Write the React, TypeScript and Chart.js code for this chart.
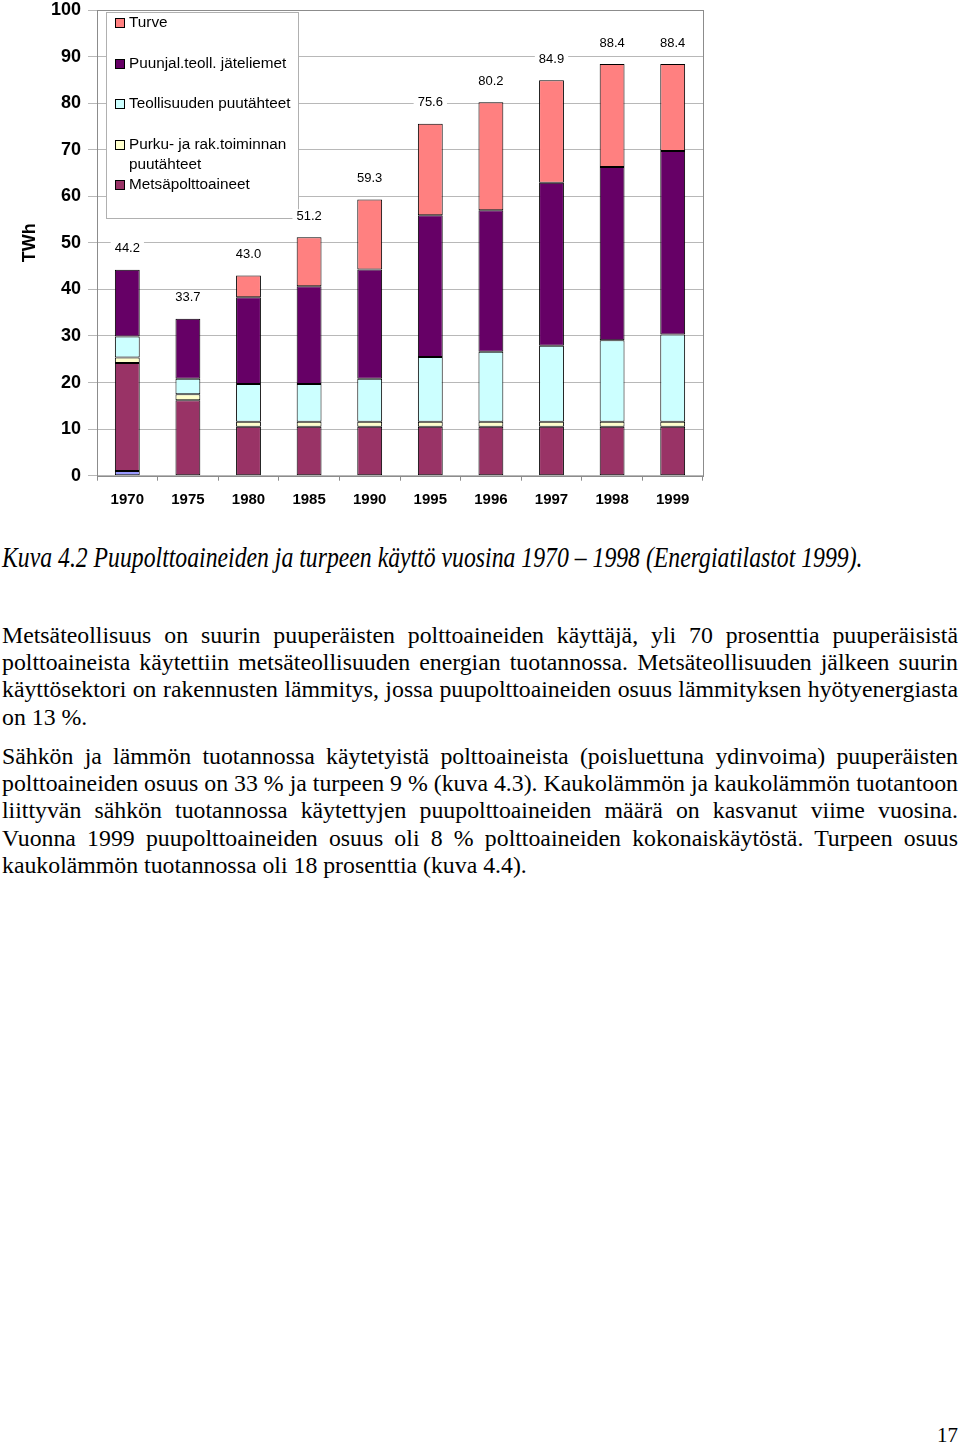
import React, { useEffect, useRef } from "react";
import { Chart, registerables } from "chart.js";
Chart.register(...registerables);

const years = ["1970", "1975", "1980", "1985", "1990", "1995", "1996", "1997", "1998", "1999"];
const muut = [1.0, null, null, null, null, null, null, null, null, null];
const metsa = [23.2, 16.2, 10.5, 10.5, 10.5, 10.5, 10.5, 10.5, 10.5, 10.5];
const purku = [1.2, 1.3, 1.1, 1.1, 1.1, 1.1, 1.1, 1.1, 1.1, 1.1];
const teoll = [4.5, 3.3, 8.1, 8.1, 9.2, 13.9, 15.0, 16.3, 17.5, 18.7];
const jate = [14.3, 12.9, 18.6, 21.0, 23.5, 30.4, 30.4, 35.0, 37.2, 39.4];
const turve = [null, null, 4.7, 10.5, 15.0, 19.7, 23.2, 22.0, 22.1, 18.7];
const yTicks = [0, 10, 20, 30, 40, 50, 60, 70, 80, 90, 100];

const seriesNames = ["Muut", "Metsäpolttoaineet", "Purku- ja rak.toiminnan puutähteet", "Teollisuuden puutähteet", "Puunjal.teoll. jäteliemet", "Turve"];
const seriesColors = ["#9999FF", "#993366", "#FFFFCC", "#CCFFFF", "#660066", "#FF8080"];
const legendLines = [
  ["Turve"],
  ["Puunjal.teoll. jäteliemet"],
  ["Teollisuuden puutähteet"],
  ["Purku- ja rak.toiminnan", "puutähteet"],
  ["Metsäpolttoaineet"],
];
const legendColors = ["#FF8080", "#660066", "#CCFFFF", "#FFFFCC", "#993366"];

const caption = "Kuva 4.2 Puupolttoaineiden ja turpeen käyttö vuosina 1970 – 1998 (Energiatilastot 1999).";
const para1 = [
  "Metsäteollisuus on suurin puuperäisten polttoaineiden käyttäjä, yli 70 prosenttia puuperäisistä",
  "polttoaineista käytettiin metsäteollisuuden energian tuotannossa. Metsäteollisuuden jälkeen suurin",
  "käyttösektori on rakennusten lämmitys, jossa puupolttoaineiden osuus lämmityksen hyötyenergiasta",
  "on 13 %.",
];
const para2 = [
  "Sähkön ja lämmön tuotannossa käytetyistä polttoaineista (poisluettuna ydinvoima) puuperäisten",
  "polttoaineiden osuus on 33 % ja turpeen 9 % (kuva 4.3). Kaukolämmön ja kaukolämmön tuotantoon",
  "liittyvän sähkön tuotannossa käytettyjen puupolttoaineiden määrä on kasvanut viime vuosina.",
  "Vuonna 1999 puupolttoaineiden osuus oli 8 % polttoaineiden kokonaiskäytöstä. Turpeen osuus",
  "kaukolämmön tuotannossa oli 18 prosenttia (kuva 4.4).",
];

const seriesData = [muut, metsa, purku, teoll, jate, turve];

const extrasPlugin = {
  id: "extras",
  beforeDatasetsDraw(chart: any) {
    const { ctx, chartArea } = chart;
    ctx.save();
    ctx.strokeStyle = "#8c8c8c";
    ctx.lineWidth = 1;
    ctx.strokeRect(Math.round(chartArea.left) + 0.5, Math.round(chartArea.top) + 0.5, Math.round(chartArea.right - chartArea.left), Math.round(chartArea.bottom - chartArea.top));
    ctx.restore();
  },
  afterDraw(chart: any) {
    const { ctx } = chart;
    const xs = chart.scales.x;
    const ys = chart.scales.y;
    ctx.save();
    // legend
    const lx = 106, ly = 12, lw = 192, lh = 206;
    ctx.fillStyle = "#ffffff";
    ctx.fillRect(lx, ly, lw, lh);
    ctx.strokeStyle = "#b0b0b0";
    ctx.lineWidth = 1;
    ctx.strokeRect(lx + 0.5, ly + 0.5, lw, lh);
    ctx.font = "15.3px 'Liberation Sans', Arial, sans-serif";
    ctx.textAlign = "left";
    ctx.textBaseline = "middle";
    const rowY = [23, 64, 104, 145, 185];
    legendLines.forEach((lines, k) => {
      const y = rowY[k];
      ctx.fillStyle = legendColors[k];
      ctx.fillRect(115.5, y - 4.5, 9, 9);
      ctx.strokeStyle = "#000000";
      ctx.strokeRect(115.5, y - 4.5, 9, 9);
      ctx.fillStyle = "#000000";
      lines.forEach((t, j) => ctx.fillText(t, 129, y + j * 20));
    });
    // total labels
    ctx.font = "13px 'Liberation Sans', Arial, sans-serif";
    ctx.textAlign = "center";
    ctx.textBaseline = "middle";
    years.forEach((_, i) => {
      let total = 0;
      seriesData.forEach((s) => { total += (s[i] as number) || 0; });
      const txt = total.toFixed(1);
      const x = xs.getPixelForValue(i);
      const y = ys.getPixelForValue(total) - 21;
      const w = ctx.measureText(txt).width;
      ctx.fillStyle = "#ffffff";
      ctx.fillRect(x - w / 2 - 4, y - 7, w + 8, 14);
      ctx.fillStyle = "#000000";
      ctx.fillText(txt, x, y);
    });
    ctx.restore();
  },
};

function BarChart() {
  const ref = useRef<HTMLCanvasElement>(null);
  useEffect(() => {
    if (!ref.current) return;
    const chart = new Chart(ref.current, {
      type: "bar",
      data: {
        labels: years,
        datasets: seriesData.map((d, i) => ({
          label: seriesNames[i],
          data: d,
          backgroundColor: seriesColors[i],
          borderColor: "#000000",
          borderWidth: 1,
          borderSkipped: false,
          categoryPercentage: 1,
          barPercentage: 0.41,
        })),
      },
      options: {
        responsive: false,
        animation: false,
        devicePixelRatio: 1,
        layout: { padding: { top: 10, right: 17, left: 0, bottom: 0 } },
        plugins: { legend: { display: false }, tooltip: { enabled: false } },
        scales: {
          x: {
            stacked: true,
            offset: true,
            grid: { offset: true, drawOnChartArea: false, drawTicks: true, tickLength: 5, color: "#8c8c8c" },
            border: { display: false },
            ticks: { color: "#000", font: { family: "'Liberation Sans', Arial, sans-serif", size: 15, weight: "bold" }, padding: 10, maxRotation: 0 },
            afterFit: (s: any) => { s.height = 44.3; s.paddingLeft = 0; s.paddingRight = 0; },
          },
          y: {
            stacked: true,
            min: 0,
            max: 100,
            afterBuildTicks: (s: any) => { s.ticks = yTicks.map((v) => ({ value: v })); },
            grid: { color: "#b8b8b8", tickLength: 9, drawTicks: true },
            border: { display: false },
            ticks: { color: "#000", font: { family: "'Liberation Sans', Arial, sans-serif", size: 18, weight: "bold", lineHeight: 1 }, padding: 7 },
            title: { display: true, text: "TWh", color: "#000", font: { family: "'Liberation Sans', Arial, sans-serif", size: 18, weight: "bold", lineHeight: 1.2 }, padding: { top: 19, bottom: 0 } },
            afterFit: (s: any) => { s.width = 97; s.paddingTop = 0; s.paddingBottom = 0; },
          },
        },
      },
      plugins: [extrasPlugin],
    });
    return () => chart.destroy();
  }, []);
  return <canvas ref={ref} width={720} height={520} style={{ position: "absolute", left: 0, top: 0, display: "block" }} />;
}

const serif = "'Liberation Serif', 'Times New Roman', serif";

function Para({ lines, top }: { lines: string[]; top: number }) {
  return (
    <div style={{ position: "absolute", left: 2, top, width: 956, fontFamily: serif, fontSize: 23.8, lineHeight: "27.2px", color: "#000" }}>
      {lines.map((l, i) => (
        <div key={i} style={{ textAlign: "justify", textAlignLast: i < lines.length - 1 ? "justify" : "left", whiteSpace: "nowrap" as any }}>{l}</div>
      ))}
    </div>
  );
}

export default function App() {
  return (
    <div style={{ position: "absolute", left: 0, top: 0, width: 960, height: 1444, background: "#fff", overflow: "hidden" }}>
      <BarChart />
      <div style={{ position: "absolute", left: 2, top: 541, fontFamily: serif, fontStyle: "italic", fontSize: 30, lineHeight: "32px", whiteSpace: "nowrap", color: "#000", transform: "scaleX(0.791)", transformOrigin: "0 0" }}>{caption}</div>
      <Para lines={para1} top={622} />
      <Para lines={para2} top={743} />
      <div style={{ position: "absolute", right: 2, top: 1422, fontFamily: serif, fontSize: 21, lineHeight: "26px", color: "#000" }}>17</div>
    </div>
  );
}
